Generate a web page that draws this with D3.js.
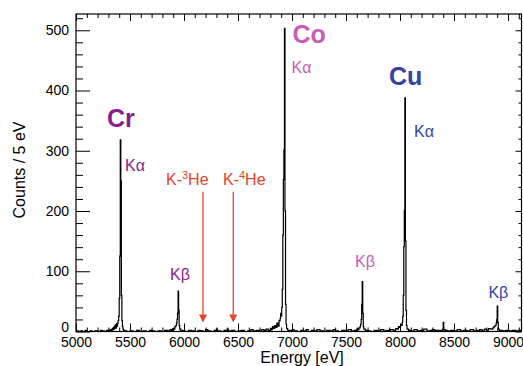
<!DOCTYPE html>
<html>
<head>
<meta charset="utf-8">
<script src="https://cdn.jsdelivr.net/npm/d3@7"></script>
<style>
  body { margin: 0; background: #fff; }
  svg { display: block; font-family: "Liberation Sans", Arial, Helvetica, sans-serif; }
  .tick text { font-size: 14px; fill: #000; }
  .tick line { stroke: #000; stroke-width: 1; }
  .line { fill: none; stroke: #000; stroke-width: 1.2; }
</style>
</head>
<body>
<svg width="523" height="366"></svg>
<script>
// spectrum (energy in eV, counts per 5 eV bin)
var energy = [
  5000,5020,5040,5060,5085,5100,5130,5150,5175,5200,5225,5240,5260,5280,5300,5315,
  5325,5335,5340,5345,5350,5355,5360,5365,5370,5375,5380,5385,5390,5395,5400,5405,
  5410,5415,5420,5425,5430,5435,5440,5450,5470,5500,5530,5560,5590,5620,5650,5680,
  5700,5730,5760,5790,5820,5850,5870,5885,5895,5905,5915,5925,5930,5935,5940,5945,
  5950,5955,5960,5970,5990,6010,6040,6070,6100,6130,6150,6180,6200,6220,6250,6280,
  6300,6310,6340,6370,6400,6410,6440,6470,6500,6530,6560,6590,6620,6640,6670,6700,
  6720,6740,6760,6780,6800,6810,6820,6830,6840,6850,6860,6870,6880,6890,6895,6900,
  6905,6910,6915,6920,6925,6930,6935,6940,6945,6950,6960,6980,7000,7020,7050,7080,
  7100,7130,7150,7180,7200,7230,7260,7290,7320,7350,7380,7400,7430,7460,7490,7520,
  7550,7580,7600,7610,7620,7630,7635,7640,7645,7650,7655,7660,7665,7680,7700,7730,
  7760,7790,7820,7850,7880,7910,7940,7960,7975,7985,7995,8005,8015,8020,8025,8030,
  8035,8040,8045,8050,8055,8060,8065,8080,8100,8130,8160,8190,8220,8250,8280,8300,
  8320,8395,8400,8405,8420,8440,8470,8500,8530,8560,8590,8620,8650,8680,8710,8740,
  8760,8780,8800,8820,8840,8860,8870,8880,8890,8895,8900,8905,8910,8920,8950,8980,
  9010,9040,9070,9100,9125
];
var counts = [
  1,0,1,0,2,0,1,0,1,0,2,1,0,2,1,3,
  2,5,3,7,4,9,5,11,6,13,9,14,18,25,55,125,
  318,250,60,18,8,4,2,1,0,1,0,2,0,1,0,2,
  1,0,1,0,2,1,3,2,5,4,8,10,14,20,30,67,
  35,10,4,2,1,0,2,1,0,2,1,0,3,1,0,2,
  4,1,0,2,4,1,2,0,1,2,0,1,3,1,2,0,
  3,2,4,2,5,3,8,5,10,7,14,9,18,22,30,26,
  40,70,160,252,301,503,200,45,12,5,2,1,3,1,0,2,
  1,3,0,2,1,3,1,0,2,1,3,1,0,2,1,3,
  1,2,4,3,6,8,12,20,45,83,30,8,4,2,1,0,
  2,1,3,1,2,3,2,5,4,8,7,12,10,15,25,60,
  141,201,388,150,35,10,4,2,1,3,1,2,4,1,2,3,
  2,4,15,3,2,1,2,1,3,1,2,1,3,1,2,3,
  1,4,2,5,4,6,8,10,14,20,42,15,4,2,1,2,
  1,2,1,2,1
];

var xMajor = [5000,5500,6000,6500,7000,7500,8000,8500,9000];
var yMajor = [0,100,200,300,400,500];

// element labels and line labels
var labels = [
  {text: "Cr", e: 5287, c: 339, color: "#8b1c8c", bold: true},
  {text: "Kα", e: 5454, c: 266, color: "#8b1c8c"},
  {text: "Kβ", e: 5870, c: 86,  color: "#8b1c8c"},
  {text: "Co", e: 7005, c: 479, color: "#c95db5", bold: true},
  {text: "Kα", e: 6995, c: 429, color: "#c95db5"},
  {text: "Kβ", e: 7583, c: 107, color: "#c95db5"},
  {text: "Cu", e: 7898, c: 409, color: "#3344a0", bold: true},
  {text: "Kα", e: 8130, c: 323, color: "#3344a0"},
  {text: "Kβ", e: 8819, c: 56,  color: "#3344a0"}
];
var heLabels = [
  {mass: "3", e: 5833, c: 243},
  {mass: "4", e: 6361, c: 243}
];
var heArrows = [6176, 6456];
var arrowTop = 232, arrowTip = 15;

var svg = d3.select("svg"),
  margin = {top: 14, right: 1.5, bottom: 34.5, left: 76},
  width = +svg.attr("width") - margin.left - margin.right,
  height = +svg.attr("height") - margin.top - margin.bottom,
  g = svg.append("g").attr("transform", "translate(" + margin.left + "," + margin.top + ")");

var x = d3.scaleLinear().domain([5000, 9125]).range([0, width]);
var y = d3.scaleLinear().domain([0, 527]).range([height, 0]);

var xMinor = d3.range(5000, 9101, 100).filter(function(v) { return xMajor.indexOf(v) < 0; });
var yMinor = d3.range(0, 521, 20).filter(function(v) { return yMajor.indexOf(v) < 0; });

function addAxis(axis, tr) {
  var a = g.append("g").attr("transform", tr || null).call(axis);
  a.select(".domain").remove();
  return a;
}

// bottom
addAxis(d3.axisBottom(x).tickValues(xMajor).tickSize(-8).tickPadding(6).tickFormat(d3.format("d")),
  "translate(0," + height + ")");
addAxis(d3.axisBottom(x).tickValues(xMinor).tickSize(-4).tickFormat(""),
  "translate(0," + height + ")");
// top
addAxis(d3.axisTop(x).tickValues(xMajor).tickSize(-7).tickFormat(""));
addAxis(d3.axisTop(x).tickValues(xMinor).tickSize(-4).tickFormat(""));
// left
var yAx = addAxis(d3.axisLeft(y).tickValues(yMajor).tickSize(-14).tickPadding(7).tickFormat(d3.format("d")));
addAxis(d3.axisLeft(y).tickValues(yMinor).tickSize(-7).tickFormat(""));
// right
addAxis(d3.axisRight(y).tickValues(yMajor).tickSize(-6).tickFormat(""),
  "translate(" + width + ",0)");
addAxis(d3.axisRight(y).tickValues(yMinor).tickSize(-3).tickFormat(""),
  "translate(" + width + ",0)");

g.selectAll(".tick text").style("font-size", "14px");
// the zero label sits a bit higher, clear of the 5000 below it
yAx.selectAll(".tick text").filter(function(d) { return d === 0; }).attr("dy", "0em");

g.append("rect")
  .attr("width", width)
  .attr("height", height)
  .attr("fill", "none")
  .attr("stroke", "#000")
  .attr("stroke-width", 1.2);

var data = energy.map(function(e, i) { return {e: e, c: counts[i]}; });

var line = d3.line()
  .curve(d3.curveStepAfter)
  .x(function(d) { return x(d.e); })
  .y(function(d) { return y(d.c); });

g.append("path")
  .datum(data)
  .attr("class", "line")
  .attr("d", line);

// red arrows for the kaonic helium lines
heArrows.forEach(function(e) {
  g.append("line")
    .attr("x1", x(e)).attr("x2", x(e))
    .attr("y1", y(arrowTop)).attr("y2", y(arrowTip) - 6)
    .attr("stroke", "#e8432b")
    .attr("stroke-width", 1.3);
  g.append("path")
    .attr("d", "M" + (x(e) - 4) + "," + (y(arrowTip) - 8) + "L" + (x(e) + 4) + "," + (y(arrowTip) - 8) +
      "L" + x(e) + "," + y(arrowTip) + "Z")
    .attr("fill", "#e8432b");
});

labels.forEach(function(l) {
  g.append("text")
    .attr("x", x(l.e))
    .attr("y", y(l.c))
    .attr("fill", l.color)
    .style("font-size", l.bold ? "25px" : "16px")
    .style("font-weight", l.bold ? "bold" : "normal")
    .text(l.text);
});

heLabels.forEach(function(l) {
  var t = g.append("text")
    .attr("x", x(l.e))
    .attr("y", y(l.c))
    .attr("fill", "#e8432b")
    .style("font-size", "16px");
  t.append("tspan").text("K-");
  t.append("tspan").attr("dy", -6).style("font-size", "11px").text(l.mass);
  t.append("tspan").attr("dy", 6).text("He");
});

// axis titles
svg.append("text")
  .attr("transform", "translate(25," + (margin.top + 156) + ") rotate(-90)")
  .attr("text-anchor", "middle")
  .style("font-size", "16px")
  .text("Counts / 5 eV");

svg.append("text")
  .attr("x", 302)
  .attr("y", 363)
  .attr("text-anchor", "middle")
  .style("font-size", "16px")
  .text("Energy [eV]");
</script>
</body>
</html>
